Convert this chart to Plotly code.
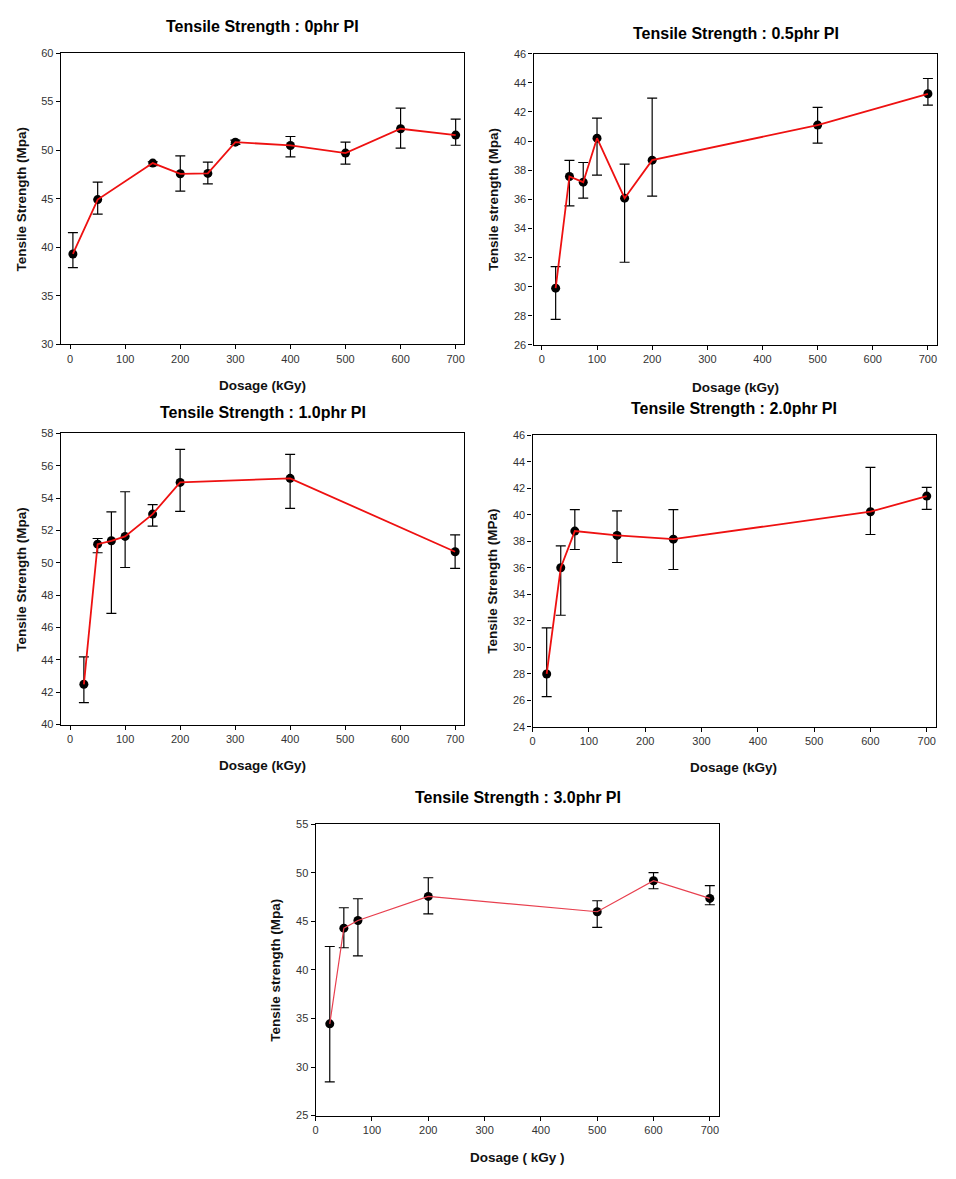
import plotly.graph_objects as go

# ---------------- data ----------------
titles = ["Tensile Strength : 0phr PI", "Tensile Strength : 0.5phr PI",
          "Tensile Strength : 1.0phr PI", "Tensile Strength : 2.0phr PI",
          "Tensile Strength : 3.0phr PI"]
ytitles = ["Tensile Strength (Mpa)", "Tensile strength (Mpa)",
           "Tensile Strength (Mpa)", "Tensile Strength (MPa)",
           "Tensile strength (Mpa)"]
xtitles = ["Dosage (kGy)", "Dosage (kGy)", "Dosage (kGy)", "Dosage (kGy)",
           "Dosage ( kGy )"]

dose_0 = [5, 50, 150, 200, 250, 300, 400, 500, 600, 700]
ts_0 = [39.3, 44.9, 48.66, 47.56, 47.6, 50.82, 50.48, 49.69, 52.2, 51.55]
hi_0 = [41.5, 46.7, 48.8, 49.4, 48.76, 51.03, 51.4, 50.82, 54.33, 53.2]
lo_0 = [37.9, 43.4, 48.4, 45.77, 46.53, 50.6, 49.3, 48.56, 50.2, 50.5]

dose_05 = [25, 50, 75, 100, 150, 200, 500, 700]
ts_05 = [29.9, 37.57, 37.18, 40.2, 36.08, 38.69, 41.1, 43.25]
hi_05 = [31.38, 38.67, 38.53, 41.58, 38.42, 42.95, 42.31, 44.3]
lo_05 = [27.76, 35.55, 36.08, 37.66, 31.68, 36.22, 39.86, 42.47]

dose_10 = [25, 50, 75, 100, 150, 200, 400, 700]
ts_10 = [42.49, 51.15, 51.36, 51.63, 53.01, 54.97, 55.22, 50.68]
hi_10 = [44.19, 51.5, 53.15, 54.39, 53.6, 57.01, 56.7, 51.73]
lo_10 = [41.36, 50.62, 46.87, 49.71, 52.27, 53.18, 53.36, 49.65]

dose_20 = [25, 50, 75, 150, 250, 600, 700]
ts_20 = [28.0, 36.01, 38.78, 38.45, 38.17, 40.24, 41.42]
hi_20 = [31.48, 37.67, 40.39, 40.31, 40.39, 43.58, 42.07]
lo_20 = [26.29, 32.43, 37.39, 36.41, 35.88, 38.52, 40.41]

dose_30 = [25, 50, 75, 200, 500, 600, 700]
ts_30 = [34.45, 44.31, 45.1, 47.58, 46.0, 49.19, 47.37]
hi_30 = [42.42, 46.41, 47.34, 49.5, 47.13, 50.02, 48.68]
lo_30 = [28.47, 42.29, 41.46, 45.79, 44.38, 48.37, 46.72]

xdata = [dose_0, dose_05, dose_10, dose_20, dose_30]
ydata = [ts_0, ts_05, ts_10, ts_20, ts_30]
hidata = [hi_0, hi_05, hi_10, hi_20, hi_30]
lodata = [lo_0, lo_05, lo_10, lo_20, lo_30]
yranges = [[30, 60], [26, 46], [40, 58], [24, 46], [25, 55]]
ydticks = [5, 2, 2, 2, 5]
xranges = [[-17, 715], [-15, 716], [-17, 716], [0, 716], [0, 716]]

# ---------------- layout (target pixel positions) ----------------
W, H = 956, 1179
boxes = [(60, 53.3, 463.3, 344.3), (533, 54, 936.3, 345),
         (60, 433.3, 463.3, 724.3), (532, 435.3, 935.3, 726.7),
         (315, 824, 718.3, 1115)]
title_pos = [(262, 27), (735, 34), (262, 412), (733, 408), (517, 797)]
xtitle_pos = [(262, 385), (735, 387), (262, 765), (733, 767), (517, 1157)]
ytitle_x = [21, 493, 21, 492, 275]

# compensation for the page offset/scale observed in the rendered photo
AX, BX = 0.9962, 10.2
AY, BY = 0.989, 14.3


def px(x):
    return ((x - BX) / AX) / W


def py(y):
    return 1 - ((y - BY) / AY) / H


FONT = "Liberation Sans, Arial, sans-serif"
fig = go.Figure()
annotations = []

for i in range(5):
    ax = "" if i == 0 else str(i + 1)
    xa, ya = "x" + ax, "y" + ax
    x0, y0, x1, y1 = boxes[i]
    err_plus = [h - v for h, v in zip(hidata[i], ydata[i])]
    err_minus = [v - l for v, l in zip(ydata[i], lodata[i])]
    fig.add_trace(go.Scatter(
        x=xdata[i], y=ydata[i], mode="markers", xaxis=xa, yaxis=ya,
        marker=dict(color="black", size=9),
        error_y=dict(type="data", symmetric=False, array=err_plus,
                     arrayminus=err_minus, color="black", thickness=1.2, width=5),
        showlegend=False, hoverinfo="x+y"))
    lw = 1.2 if i == 4 else 1.8
    lc = "#e8404f" if i == 4 else "#ee1111"
    fig.add_trace(go.Scatter(
        x=xdata[i], y=ydata[i], mode="lines", xaxis=xa, yaxis=ya,
        line=dict(color=lc, width=lw), showlegend=False, hoverinfo="skip"))

    axcommon = dict(showline=True, linecolor="black", linewidth=1.3, mirror=True,
                    ticks="outside", ticklen=4, tickwidth=1, tickcolor="black",
                    showgrid=False, zeroline=False,
                    tickfont=dict(family=FONT, size=11, color="#333333"))
    fig.layout["xaxis" + ax] = dict(
        domain=[px(x0), px(x1)], range=xranges[i], tick0=0, dtick=100,
        anchor=ya, **axcommon)
    fig.layout["yaxis" + ax] = dict(
        domain=[py(y1), py(y0)], range=yranges[i], tick0=0,
        dtick=ydticks[i], anchor=xa, **axcommon)

    tx, ty = title_pos[i]
    annotations.append(dict(text="<b>" + titles[i] + "</b>", x=px(tx), y=py(ty),
                            xref="paper", yref="paper", showarrow=False,
                            xanchor="center", yanchor="middle",
                            font=dict(family=FONT, size=16, color="black")))
    tx, ty = xtitle_pos[i]
    annotations.append(dict(text="<b>" + xtitles[i] + "</b>", x=px(tx), y=py(ty),
                            xref="paper", yref="paper", showarrow=False,
                            xanchor="center", yanchor="middle",
                            font=dict(family=FONT, size=13.5, color="#111111")))
    annotations.append(dict(text="<b>" + ytitles[i] + "</b>", x=px(ytitle_x[i]),
                            y=py((y0 + y1) / 2),
                            xref="paper", yref="paper", showarrow=False,
                            textangle=-90, xanchor="center", yanchor="middle",
                            font=dict(family=FONT, size=13.5, color="#111111")))

fig.update_layout(width=W, height=H, margin=dict(l=0, r=0, t=0, b=0),
                  paper_bgcolor="white", plot_bgcolor="white",
                  annotations=annotations)
fig.write_html("out.html")
